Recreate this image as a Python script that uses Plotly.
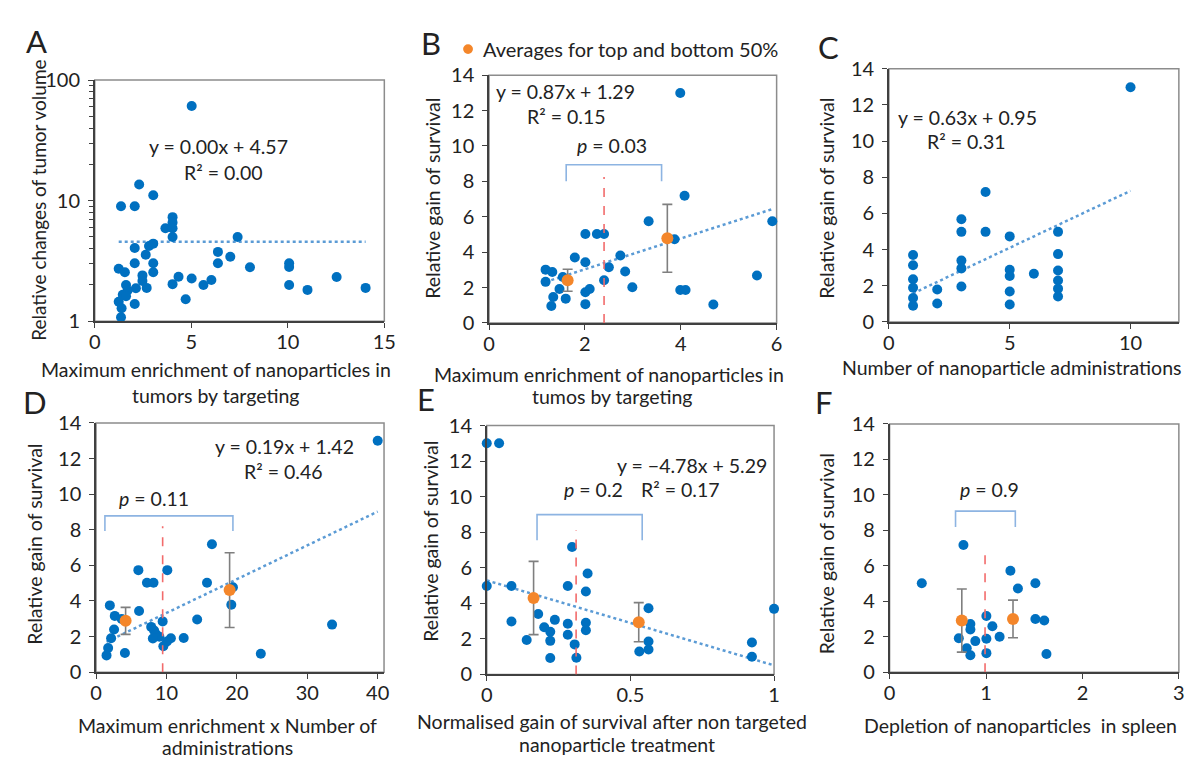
import plotly.graph_objects as go

# ---------------- data ----------------
# Panel A (log y)
a_x = [5.02, 2.30, 3.03, 1.36, 2.07, 4.03, 4.03, 3.66, 4.03, 4.03, 7.40, 2.07, 2.81, 3.03, 2.64, 6.38,
       7.02, 2.07, 3.03, 6.38, 10.07, 10.07, 1.24, 1.56, 3.03, 8.04, 2.47, 4.34, 5.02, 6.04, 12.53,
       2.47, 1.62, 4.03, 5.63, 10.07, 2.69, 2.13, 1.70, 11.02, 14.03, 1.45, 1.62, 1.24, 2.07, 4.71,
       1.39, 1.36]
a_y = [61, 13.6, 11.1, 9.0, 9.0, 7.3, 6.6, 5.9, 5.9, 5.0, 5.0, 4.05, 4.2, 4.4, 3.56, 3.76,
       3.43, 3.03, 3.03, 3.03, 3.03, 2.82, 2.72, 2.55, 2.55, 2.8, 2.4, 2.34, 2.26, 2.2, 2.33,
       2.16, 2.0, 2.03, 2.0, 2.0, 1.89, 1.88, 1.80, 1.82, 1.89, 1.66, 1.61, 1.45, 1.39, 1.52,
       1.28, 1.08]
a_slope, a_icpt = 0.00, 4.57

# Panel B
b_x = [3.99, 4.08, 3.33, 5.91, 2.01, 2.25, 2.40, 3.87, 1.79, 2.74, 2.01, 2.50, 1.18, 1.32, 2.84,
       5.59, 1.54, 1.18, 2.40, 1.47, 2.99, 2.01, 2.10, 3.99, 4.10, 1.34, 1.60, 1.30, 2.01, 4.68]
b_y = [13.0, 7.19, 5.75, 5.75, 5.02, 5.02, 5.02, 4.73, 3.70, 3.81, 3.43, 3.14, 3.01, 2.88, 2.90,
       2.68, 2.59, 2.32, 2.41, 1.92, 2.01, 1.73, 1.92, 1.86, 1.86, 1.46, 1.37, 0.95, 1.06, 1.04]
b_avg_x = [1.64, 3.72]
b_avg_y = [2.41, 4.78]
b_avg_err = [0.62, 1.92]
b_slope, b_icpt = 0.87, 1.29
b_split, b_split_top = 2.40, 8.25
b_bracket_x, b_bracket_y = [1.61, 3.60], [8.0, 8.94]

# Panel C
c_x = [1, 1, 1, 1, 1, 1, 2, 2, 3, 3, 3, 3, 3, 4, 4, 5, 5, 5, 5, 5, 6, 7, 7, 7, 7, 7, 7, 10]
c_y = [3.70, 3.13, 2.36, 1.89, 1.32, 0.89, 1.79, 1.02, 5.68, 4.98, 3.39, 2.96, 1.96, 7.18, 4.98,
       4.73, 2.88, 2.54, 1.68, 0.96, 2.66, 4.98, 3.75, 2.84, 2.29, 1.84, 1.41, 12.98]
c_slope, c_icpt = 0.63, 0.95

# Panel D
d_x = [40.0, 16.46, 6.01, 10.12, 7.23, 8.16, 15.76, 19.44, 1.96, 19.21, 6.11, 2.66, 3.64, 14.36,
       9.46, 33.52, 7.83, 8.25, 2.56, 8.53, 9.0, 2.14, 8.07, 10.63, 12.45, 10.07, 1.72, 9.56, 1.49,
       4.10, 23.4]
d_y = [13.0, 7.18, 5.73, 5.73, 5.02, 5.02, 5.02, 4.77, 3.75, 3.79, 3.43, 3.16, 2.99, 2.96,
       2.85, 2.67, 2.54, 2.34, 2.39, 2.12, 1.99, 1.90, 1.89, 1.90, 1.92, 1.72, 1.36, 1.45, 0.94,
       1.07, 1.03]
d_avg_x = [4.20, 18.97]
d_avg_y = [2.88, 4.61]
d_avg_err = [0.76, 2.1]
d_slope, d_icpt = 0.19, 1.42
d_split, d_split_top = 9.46, 8.2
d_bracket_x, d_bracket_y = [1.26, 19.44], [7.93, 8.78]

# Panel E
e_x = [0, 0.043, 0.297, 0.351, 0, 0.086, 0.282, 0.345, 0.563, 1.0, 0.179, 0.237, 0.086, 0.282,
       0.345, 0.20, 0.345, 0.221, 0.282, 0.139, 0.221, 0.563, 0.923, 0.306, 0.563, 0.531, 0.221,
       0.312, 0.923]
e_y = [13.0, 13.0, 7.17, 5.68, 4.98, 4.98, 4.98, 4.67, 3.72, 3.69, 3.40, 3.07, 2.98, 2.85,
       2.91, 2.65, 2.49, 2.40, 2.23, 1.94, 1.89, 1.85, 1.80, 1.69, 1.40, 1.29, 0.93, 0.94, 1.0]
e_avg_x = [0.163, 0.529]
e_avg_y = [4.30, 2.94]
e_avg_err = [2.06, 1.1]
e_slope, e_icpt = -4.78, 5.29
e_split, e_split_top = 0.311, 8.12
e_bracket_x, e_bracket_y = [0.175, 0.541], [7.55, 8.99]

# Panel F
f_x = [0.766, 1.253, 0.334, 1.512, 1.331, 1.004, 1.512, 1.604, 0.838, 1.066, 0.838, 1.141, 0.718,
       1.004, 0.889, 0.80, 1.004, 0.838, 1.627]
f_y = [7.17, 5.72, 5.01, 5.01, 4.72, 3.17, 3.00, 2.91, 2.71, 2.59, 2.40, 2.0, 1.91, 1.88, 1.75,
       1.35, 1.07, 0.95, 1.02]
f_avg_x = [0.749, 1.28]
f_avg_y = [2.91, 3.0]
f_avg_err = [1.78, 1.06]
f_split, f_split_top = 0.99, 6.72
f_bracket_x, f_bracket_y = [0.684, 1.304], [8.19, 9.08]

# ---------------- style ----------------
W, H = 1193, 762
FONT = "Lato"
BLUE = "#0070C0"
ORANGE = "#F4862A"
TREND = "#5B9BD5"
RED = "#F26B6B"
BRACKET = "#8DB4E2"
GREY = "#7F7F7F"
TICK_SIZE = 20
TITLE_SIZE = 19.5


def pxx(x):
    return x / W


def pxy(y):
    return 1 - y / H


fig = go.Figure()

panels = [
    dict(k="", xs=a_x, ys=a_y, xd=(82, 376), yd=(61, 310)),
    dict(k="2", xs=b_x, ys=b_y, xd=(482.3, 774.3), yd=(56, 311.7)),
    dict(k="3", xs=c_x, ys=c_y, xd=(888.3, 1182.7), yd=(49.3, 310.7)),
    dict(k="4", xs=d_x, ys=d_y, xd=(83.3, 375.7), yd=(415, 672.3)),
    dict(k="5", xs=e_x, ys=e_y, xd=(480, 771.7), yd=(417.7, 674.7)),
    dict(k="6", xs=f_x, ys=f_y, xd=(889, 1182.7), yd=(416, 672.3)),
]

trend = {"": (a_slope, a_icpt), "2": (b_slope, b_icpt), "3": (c_slope, c_icpt),
         "4": (d_slope, d_icpt), "5": (e_slope, e_icpt)}
avgs = {"2": (b_avg_x, b_avg_y, b_avg_err), "4": (d_avg_x, d_avg_y, d_avg_err),
        "5": (e_avg_x, e_avg_y, e_avg_err), "6": (f_avg_x, f_avg_y, f_avg_err)}
splits = {"2": (b_split, b_split_top), "4": (d_split, d_split_top),
          "5": (e_split, e_split_top), "6": (f_split, f_split_top)}
brackets = {"2": (b_bracket_x, b_bracket_y), "4": (d_bracket_x, d_bracket_y),
            "5": (e_bracket_x, e_bracket_y), "6": (f_bracket_x, f_bracket_y)}

shapes = []
for p in panels:
    k = p["k"]
    xa, ya = "x" + k, "y" + k
    if k in trend:
        s, c = trend[k]
        x0, x1 = min(p["xs"]), max(p["xs"])
        fig.add_trace(go.Scatter(x=[x0, x1], y=[s * x0 + c, s * x1 + c], mode="lines",
                                 line=dict(color=TREND, width=2.5, dash="dot"),
                                 xaxis=xa, yaxis=ya, hoverinfo="skip"))
    fig.add_trace(go.Scatter(x=p["xs"], y=p["ys"], mode="markers",
                             marker=dict(color=BLUE, size=10), cliponaxis=False,
                             xaxis=xa, yaxis=ya))
    if k in splits:
        sx, st = splits[k]
        shapes.append(dict(type="line", xref=xa, yref=ya, x0=sx, x1=sx, y0=0, y1=st,
                           line=dict(color=RED, width=1.6, dash="dash"), layer="above"))
    if k in brackets:
        bx, by = brackets[k]
        path = f"M {bx[0]},{by[0]} L {bx[0]},{by[1]} L {bx[1]},{by[1]} L {bx[1]},{by[0]}"
        shapes.append(dict(type="path", xref=xa, yref=ya, path=path,
                           line=dict(color=BRACKET, width=1.6)))
    if k in avgs:
        ax_, ay_, ae_ = avgs[k]
        fig.add_trace(go.Scatter(x=ax_, y=ay_, mode="markers",
                                 marker=dict(color=ORANGE, size=12),
                                 error_y=dict(type="data", array=ae_, visible=True,
                                              color=GREY, thickness=1.6, width=5),
                                 cliponaxis=False, xaxis=xa, yaxis=ya))
    shapes.append(dict(type="rect", xref=xa + " domain", yref=ya + " domain",
                       x0=0, x1=1, y0=0, y1=1, line=dict(color="#8C8C8C", width=1.5),
                       layer="below"))

axis_common = dict(showgrid=False, zeroline=False, showline=True, linecolor="#404040",
                   linewidth=1.5, ticks="outside", ticklen=5, tickwidth=1.3,
                   tickcolor="#404040", tickfont=dict(family=FONT, size=TICK_SIZE, color="#222"))

layout = dict(width=W, height=H, margin=dict(l=0, r=0, t=0, b=0),
              plot_bgcolor="white", paper_bgcolor="white", showlegend=False,
              font=dict(family=FONT, size=TITLE_SIZE, color="#222"))

xranges = {"": [0, 15], "2": [0, 6], "3": [0, 12], "4": [0, 40.9], "5": [0, 1], "6": [0, 3]}
xdt = {"": 5, "2": 2, "3": 5, "4": 10, "5": 0.5, "6": 1}

for p in panels:
    k = p["k"]
    xname = "xaxis" + k
    yname = "yaxis" + k
    layout[xname] = dict(axis_common, domain=[pxx(p["xd"][0]), pxx(p["xd"][1])],
                         range=xranges[k], dtick=xdt[k], tick0=0, anchor="y" + k,
                         ticklabelstandoff=-3)
    if k == "":
        layout[yname] = dict(axis_common, domain=[pxy(p["yd"][1]), pxy(p["yd"][0])],
                             type="log", range=[0, 2], tickvals=[1, 10, 100],
                             minor=dict(ticks="outside", ticklen=4, tickcolor="#404040",
                                        tickvals=[2, 3, 4, 5, 6, 7, 8, 9, 20, 30, 40, 50, 60, 70, 80, 90]),
                             anchor="x" + k, ticklabelstandoff=4)
    else:
        layout[yname] = dict(axis_common, domain=[pxy(p["yd"][1]), pxy(p["yd"][0])],
                             range=[0, 14], dtick=2, tick0=0, anchor="x" + k,
                             ticklabelstandoff=4)
layout["xaxis5"]["tickvals"] = [0, 0.5, 1]
layout["xaxis5"]["ticktext"] = ["0", "0.5", "1"]

fig.update_layout(**layout)
fig.update_layout(shapes=shapes)

ann = []


def txt(x, y, s, size=TITLE_SIZE, angle=0, xanchor="center"):
    ann.append(dict(x=pxx(x), y=pxy(y), xref="paper", yref="paper", text=s, showarrow=False,
                    font=dict(family=FONT, size=size, color="#222"), textangle=angle,
                    xanchor=xanchor, yanchor="middle"))


for lt, (lx, ly) in zip("ABCDEF", [(23, 21), (423, 23), (827, 27), (21, 393), (418, 390), (822, 393)]):
    txt(lx, ly, lt, size=31)

txt(25, 185, "Relative changes of tumor volume", size=19, angle=-90)
txt(205, 360, "Maximum enrichment of nanoparticles in")
txt(205, 387, "tumors by targeting")
txt(425, 183, "Relative gain of survival", angle=-90)
txt(604, 365, "Maximum enrichment of nanoparticles in")
txt(607, 388, "tumos by targeting")
txt(825, 183, "Relative gain of survival", angle=-90)
txt(1013, 358, "Number of nanoparticle administrations")
txt(21, 540, "Relative gain of survival", angle=-90)
txt(217, 727, "Maximum enrichment x Number of")
txt(217, 750, "administrations")
txt(422, 537, "Relative gain of survival", angle=-90)
txt(607, 723, "Normalised gain of survival after non targeted")
txt(612, 747, "nanoparticle treatment")
txt(825, 550, "Relative gain of survival", angle=-90)
txt(1022, 727, "Depletion of nanoparticles  in spleen")

txt(208, 130, "y = 0.00x + 4.57")
txt(213, 156, "R² = 0.00")
txt(560, 73, "y = 0.87x + 1.29")
txt(561, 99, "R² = 0.15")
txt(968, 100, "y = 0.63x + 0.95")
txt(967, 124, "R² = 0.31")
txt(275, 439, "y = 0.19x + 1.42")
txt(274, 465, "R² = 0.46")
txt(688, 459, "y = −4.78x + 5.29")
txt(677, 484, "R² = 0.17")

txt(607, 129, "<i>p</i> = 0.03")
txt(142, 493, "<i>p</i> = 0.11")
txt(588, 484, "<i>p</i> = 0.2")
txt(990, 484, "<i>p</i> = 0.9")

txt(474, 29, "Averages for top and bottom 50%", size=20, xanchor="left")
fig.update_layout(annotations=ann)

fig.add_shape(type="circle", xref="paper", yref="paper",
              x0=pxx(456), x1=pxx(466), y0=pxy(34), y1=pxy(24),
              fillcolor=ORANGE, line=dict(color=ORANGE, width=0))

fig.write_html("out.html")
